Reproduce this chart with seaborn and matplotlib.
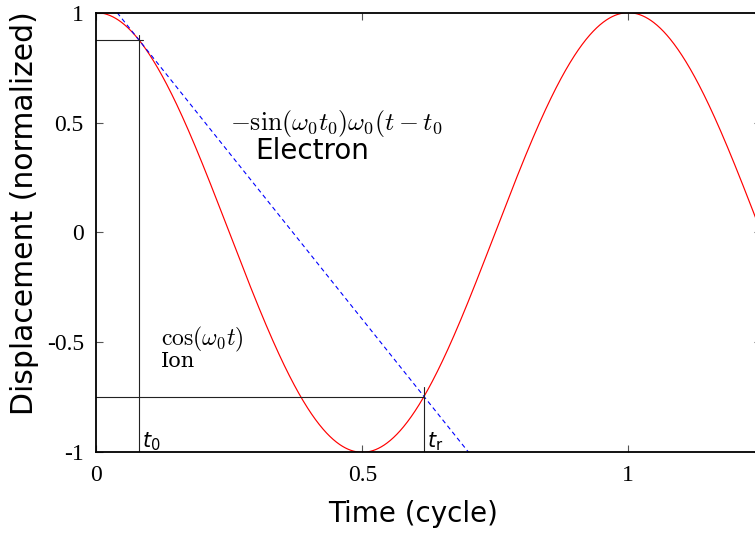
import numpy as np
import pandas as pd
import matplotlib
matplotlib.use("Agg")
import matplotlib.pyplot as plt
import seaborn as sns

# Angular frequency for a period of one cycle
omega0 = 2 * np.pi

# Time axis (cycles) and the key instants
t_start, t_end = 0.0, 1.25
t0 = 0.080          # ionisation instant
tr = 0.616          # return instant

# Tick positions and labels
xticks = [0, 0.5, 1]
xticklabels = ["0", "0.5", "1"]
yticks = [1, 0.5, 0, -0.5, -1]
yticklabels = ["1", "0.5", "0", "-0.5", "-1"]

sns.set_theme(style="white")
plt.rcParams["font.family"] = ["DejaVu Sans"]
plt.rcParams["text.color"] = "black"
plt.rcParams["axes.labelcolor"] = "black"
plt.rcParams["xtick.color"] = "black"
plt.rcParams["ytick.color"] = "black"

t = np.linspace(t_start, t_end, 1200)
ion = pd.DataFrame({"t": t, "x": np.cos(omega0 * t)})

# Electron drift: tangent of the ion curve at t0
y0 = np.cos(omega0 * t0)
slope = -np.sin(omega0 * t0) * omega0
t_line = np.linspace(t0 - (1 - y0) / -slope, t0 + (y0 + 1) / -slope, 200)
electron = pd.DataFrame({"t": t_line, "x": y0 + slope * (t_line - t0)})
yr = y0 + slope * (tr - t0)

fig = plt.figure(figsize=(7.55, 5.37), dpi=100)
ax = fig.add_axes([0.1276, 0.1577, 0.8807, 0.8187])

sns.lineplot(data=ion, x="t", y="x", ax=ax, color="#ff0000", lw=0.85)
sns.lineplot(data=electron, x="t", y="x", ax=ax, color="#0000ff", lw=0.8,
             dashes=False, linestyle=(0, (4, 3)))

# Guide lines marking t0 and tr
gl = dict(color="#222222", lw=0.8)
ax.plot([t_start, t0 + 0.008], [y0, y0], **gl)
ax.plot([t0, t0], [-1, y0 + 0.022], **gl)
ax.plot([t_start, tr], [yr, yr], **gl)
ax.plot([tr, tr], [-1, yr + 0.045], **gl)

ax.set_xlim(t_start, t_end)
ax.set_ylim(-1, 1)
ax.set_xticks(xticks)
ax.set_xticklabels(xticklabels)
ax.set_yticks(yticks)
ax.set_yticklabels(yticklabels)

for lab in ax.get_xticklabels() + ax.get_yticklabels():
    lab.set_family("Liberation Serif")
    lab.set_fontsize(17)

ax.tick_params(direction="in", length=5, width=0.8, color="#555555",
               top=True, right=True, bottom=True, left=True, pad=9)
for s in ax.spines.values():
    s.set_color("black")
    s.set_linewidth(1.3)

ax.set_xlabel("Time (cycle)", fontsize=20)
ax.set_ylabel("Displacement (normalized)", fontsize=21.5)
ax.xaxis.set_label_coords(0.477, -0.108)
ax.yaxis.set_label_coords(-0.086, 0.545)

ax.text(0.251, 0.466, r"$-\sin(\omega_0 t_0)\omega_0(t-t_0$",
        fontsize=18.5, math_fontfamily="cm", ha="left", va="baseline")
ax.text(0.298, 0.336, "Electron", fontsize=20, ha="left", va="baseline")
ax.text(0.121, -0.515, r"$\cos(\omega_0 t)$", fontsize=17,
        math_fontfamily="cm", ha="left", va="baseline")
ax.text(0.121, -0.610, "Ion", fontsize=15, family="DejaVu Serif",
        ha="left", va="baseline")
ax.text(0.086, -0.976, r"$t_0$", fontsize=15, math_fontfamily="dejavusans",
        ha="left", va="baseline")
ax.text(0.622, -0.976, r"$t_\mathrm{r}$", fontsize=15,
        math_fontfamily="dejavusans", ha="left", va="baseline")

fig.savefig("out.png", dpi=100)
